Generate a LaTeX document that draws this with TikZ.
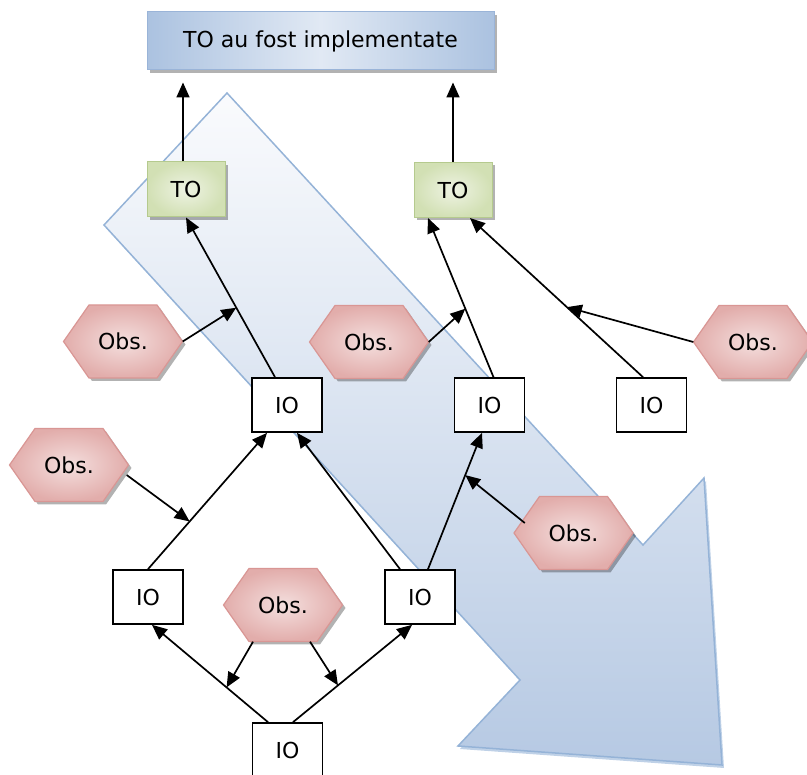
\documentclass[tikz,border=0pt]{standalone}
\usepackage{fontspec}
\setmainfont{DejaVu Sans}
\usetikzlibrary{arrows.meta,calc,shadows}

\definecolor{bandedge}{HTML}{95B3D7}
\definecolor{bandtop}{HTML}{FAFBFD}
\definecolor{bandbot}{HTML}{B6C9E3}
\definecolor{titleedge}{HTML}{9AB4D8}
\definecolor{titleside}{HTML}{ABC2E0}
\definecolor{titlemid}{HTML}{E1E9F4}
\definecolor{toedge}{HTML}{B5CA8E}
\definecolor{toin}{HTML}{EEF3E3}
\definecolor{toout}{HTML}{D2E0B4}
\definecolor{obsedge}{HTML}{D99694}
\definecolor{obsin}{HTML}{F4DFDE}
\definecolor{obsout}{HTML}{E2ADAB}

\tikzset{
  lbl/.style={font=\fontsize{22}{26}\selectfont},
  softshadow/.style={drop shadow={shadow xshift=3pt, shadow yshift=-3pt, fill=black, opacity=0.3}},
  titlebox/.style={lbl, draw=titleedge, line width=1pt, left color=titleside, right color=titleside, middle color=titlemid, minimum width=347pt, minimum height=58pt, softshadow},
  tobox/.style={lbl, draw=toedge, line width=1pt, inner color=toin, outer color=toout, minimum width=78pt, minimum height=55pt, softshadow},
  iobox/.style={lbl, draw=black, line width=1.7pt, fill=white, minimum width=70pt, minimum height=54pt},
  obstext/.style={lbl, inner sep=0pt, minimum width=119pt, minimum height=73pt},
  hexa/.style={draw=obsedge, line width=1.2pt, inner color=obsin, outer color=obsout, softshadow},
  link/.style={line width=1.7pt, -{Triangle[length=15pt,width=13pt]}},
}

% hexagonal observation marker: shape first, then its named label node
\newcommand\obshex[2]{%
  \path[hexa] (#2) ++(-59.5,0) -- ++(25.5,-36.5) -- ++(68,0) -- ++(25.5,36.5)
    -- ++(-25.5,36.5) -- ++(-68,0) -- cycle;
  \node[obstext] (#1) at (#2) {Obs.};
}

\begin{document}
\begin{tikzpicture}[x=1pt,y=-1pt]
\clip (0,0) rectangle (807,775);

% broad arrow in the background
\path[draw=bandedge, line width=1.5pt, top color=bandtop, bottom color=bandbot,
      drop shadow={shadow xshift=2pt, shadow yshift=-3pt, fill=bandedge, opacity=0.6}]
  (227,93) -- (104,225) -- (520,680) -- (458,746) -- (722,765) -- (704,478) -- (643,545) -- cycle;

% boxes
\node[titlebox] (title) at (320.5,41) {TO au fost implementate};
\node[tobox] (tol) at (186,189.5) {TO};
\node[tobox] (tor) at (453,190) {TO};
\node[iobox] (ioa) at (287,405) {IO};
\node[iobox] (iob) at (489.5,405) {IO};
\node[iobox] (ioc) at (651.5,405) {IO};
\node[iobox] (iod) at (148,597) {IO};
\node[iobox] (ioe) at (420,597) {IO};
\node[iobox] (iof) at (287.5,750) {IO};

% observations
\obshex{obs1}{123,341.5}
\obshex{obs2}{369,342}
\obshex{obs3}{753,342}
\obshex{obs4}{69,465}
\obshex{obs5}{283,605}
\obshex{obs6}{573.5,533}

% TO -> title
\coordinate (t1) at ($(tol.north)+(-3,0)$);
\coordinate (t2) at (tor.north);
\draw[link, shorten >=12pt] (t1) -- (t1 |- title.south);
\draw[link, shorten >=12pt] (t2) -- (t2 |- title.south);

% IO -> TO (left)
\coordinate (a3) at ($(ioa.north)+(-12,0)$);
\draw[link] (a3) -- (tol.south);
\coordinate (m1) at ($(a3)!0.435!(tol.south)$);
\draw[link] (obs1.east) -- (m1);

% IO -> TO (right)
\coordinate (a4) at ($(iob.north)+(4,0)$);
\coordinate (b4) at ($(tor.south)+(-25,0)$);
\draw[link] (a4) -- (b4);
\coordinate (m2) at ($(a4)!0.43!(b4)$);
\draw[link] (obs2.east) -- (m2);

\coordinate (a5) at ($(ioc.north)+(-8.5,0)$);
\coordinate (b5) at ($(tor.south)+(17,0)$);
\draw[link] (a5) -- (b5);
\coordinate (m3) at ($(a5)!0.44!(b5)$);
\draw[link] (obs3.west) -- (m3);

% lower level IO -> upper IO
\coordinate (a6) at (iod.north);
\coordinate (b6) at ($(ioa.south)+(-20,0)$);
\draw[link] (a6) -- (b6);
\coordinate (m4) at ($(a6)!0.35!(b6)$);
\coordinate (s4) at ($(obs4.east)+(-2,10)$);
\draw[link] (s4) -- (m4);

\coordinate (a7) at ($(ioe.north)+(-20,0)$);
\coordinate (b7) at ($(ioa.south)+(10,0)$);
\draw[link] (a7) -- (b7);

\coordinate (a8) at ($(ioe.north)+(8,0)$);
\coordinate (b8) at ($(iob.south)+(-7.5,0)$);
\draw[link] (a8) -- (b8);
\coordinate (m6) at ($(a8)!0.69!(b8)$);
\coordinate (s6) at ($(obs6.west)+(11,-10)$);
\draw[link] (s6) -- (m6);

% bottom IO -> lower IOs
\coordinate (a9) at ($(iof.north)+(-19.5,0)$);
\coordinate (b9) at ($(iod.south)+(4,0)$);
\draw[link] (a9) -- (b9);
\coordinate (m9) at ($(a9)!0.357!(b9)$);
\coordinate (s9) at ($(obs5.south)+(-30,0)$);
\draw[link] (s9) -- (m9);

\coordinate (a10) at ($(iof.north)+(5.5,0)$);
\coordinate (b10) at ($(ioe.south)+(-8,0)$);
\draw[link] (a10) -- (b10);
\coordinate (m10) at ($(a10)!0.378!(b10)$);
\coordinate (s10) at ($(obs5.south)+(27,0)$);
\draw[link] (s10) -- (m10);
\end{tikzpicture}
\end{document}
